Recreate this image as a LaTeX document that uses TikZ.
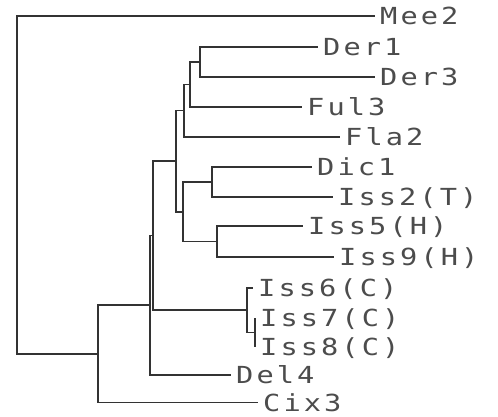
\documentclass[tikz,border=0pt]{standalone}
\usepackage{fontspec}
\newfontfamily\plotfont[FakeStretch=1.22,LetterSpace=13]{DejaVu Sans Mono}
\begin{document}
\begin{tikzpicture}[x=1pt,y=-1pt,
  branch/.style={draw=black!80, line width=1.2pt},
  leaf/.style={anchor=west, inner xsep=5pt, inner ysep=0pt, text height=17pt, text depth=0pt,
    font={\fontsize{23.5}{25}\plotfont}, text=black!70}]
\fill[white] (0,0) rectangle (498,417);
\useasboundingbox (0,0) rectangle (498,417);
% leaves
\node[leaf] (Mee2) at (375,16) {Mee2};
\node[leaf] (Der1) at (318,47) {Der1};
\node[leaf] (Der3) at (375,77) {Der3};
\node[leaf] (Ful3) at (302,107) {Ful3};
\node[leaf] (Fla2) at (340,137) {Fla2};
\node[leaf] (Dic1) at (312,167) {Dic1};
\node[leaf] (Iss2) at (333,197) {Iss2(T)};
\node[leaf] (Iss5) at (303,226) {Iss5(H)};
\node[leaf] (Iss9) at (334,257) {Iss9(H)};
\node[leaf] (Iss6) at (253,288) {Iss6(C)};
\node[leaf] (Iss7) at (255,318) {Iss7(C)};
\node[leaf] (Iss8) at (255,347) {Iss8(C)};
\node[leaf] (Del4) at (231,375) {Del4};
\node[leaf] (Cix3) at (258,402.5) {Cix3};
% internal nodes
\coordinate (nDer) at (200,62);
\coordinate (nFul) at (190,84.5);
\coordinate (nFla) at (184,110.5);
\coordinate (nDic) at (212,182);
\coordinate (nIss59) at (217,241.5);
\coordinate (nDI) at (183,212);
\coordinate (nA) at (176,161);
\coordinate (nIss78) at (255,332.5);
\coordinate (nIssC) at (247,310);
\coordinate (nB) at (153,235.5);
\coordinate (nC) at (150,305);
\coordinate (nD) at (98,354);
\coordinate (root) at (17,185);
% branches
\draw[branch] (nDer) |- (Der1.west);
\draw[branch] (nDer) |- (Der3.west);
\draw[branch] (nFul) |- (nDer);
\draw[branch] (nFul) |- (Ful3.west);
\draw[branch] (nFla) |- (nFul);
\draw[branch] (nFla) |- (Fla2.west);
\draw[branch] (nDic) |- (Dic1.west);
\draw[branch] (nDic) |- (Iss2.west);
\draw[branch] (nIss59) |- (Iss5.west);
\draw[branch] (nIss59) |- (Iss9.west);
\draw[branch] (nDI) |- (nDic);
\draw[branch] (nDI) |- (nIss59);
\draw[branch] (nA) |- (nFla);
\draw[branch] (nA) |- (nDI);
\draw[branch] (nIss78) |- (Iss7.west);
\draw[branch] (nIss78) |- (Iss8.west);
\draw[branch] (nIssC) |- (Iss6.west);
\draw[branch] (nIssC) |- (nIss78);
\draw[branch] (nB) |- (nA);
\draw[branch] (nB) |- (nIssC);
\draw[branch] (nC) |- (nB);
\draw[branch] (nC) |- (Del4.west);
\draw[branch] (nD) |- (nC);
\draw[branch] (nD) |- (Cix3.west);
\draw[branch] (root) |- (Mee2.west);
\draw[branch] (root) |- (nD);
\end{tikzpicture}
\end{document}
